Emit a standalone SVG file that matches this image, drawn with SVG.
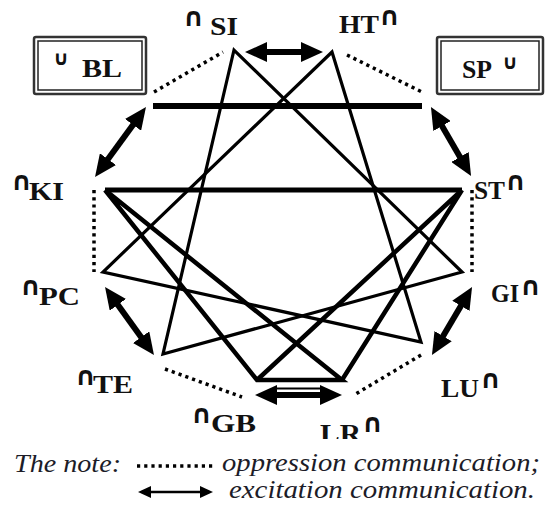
<svg xmlns="http://www.w3.org/2000/svg" width="548" height="506" viewBox="0 0 548 506">
  <defs>
    <style>
      .lbl { font-family: "Liberation Serif", "Times New Roman", serif; font-weight: bold; font-size: 25px; fill: #111; }
      .sym { font-family: "DejaVu Sans", sans-serif; font-weight: bold; font-size: 26px; fill: #111; }
      .cup { font-family: "DejaVu Sans", sans-serif; font-weight: bold; font-size: 20px; fill: #111; }
      .star { fill: none; stroke: #000; stroke-linejoin: miter; stroke-linecap: butt; }
      .thin { stroke-width: 3.2; }
      .thick { stroke-width: 4.5; }
      .dot { fill: none; stroke: #000; stroke-width: 3.5; stroke-dasharray: 3.2 4; }
      .exc { fill: none; stroke: #000; stroke-width: 6; marker-start: url(#ah); marker-end: url(#ah); }
      .box-out { fill: #fff; stroke: #333; stroke-width: 2.5; }
      .box-in { fill: none; stroke: #222; stroke-width: 1.5; }
      .note { font-family: "Liberation Serif", "Times New Roman", serif; font-style: italic; font-size: 26px; fill: #1c1c28; }
    </style>
    <marker id="ah" viewBox="0 -10 22 20" markerWidth="22" markerHeight="20" refX="2" refY="0" orient="auto-start-reverse" markerUnits="userSpaceOnUse">
      <path d="M0,-10 L22,0 L0,10 z" fill="#000"/>
    </marker>
    <marker id="ahs" viewBox="0 -6 13 12" markerWidth="13" markerHeight="12" refX="1" refY="0" orient="auto-start-reverse" markerUnits="userSpaceOnUse">
      <path d="M0,-6 L13,0 L0,6 z" fill="#000"/>
    </marker>
    <clipPath id="clipLR">
      <rect x="300" y="400" width="100" height="39"/>
    </clipPath>
  </defs>

  <rect width="548" height="506" fill="#fff"/>

  <!-- connectors: star lines, oppression (dotted) and excitation (double arrows) -->
  <g id="connectors">
    <!-- BL - SP -->
    <path class="star" stroke-width="6" d="M153,106 L422,106"/>
    <!-- KI, ST, GB, LR group -->
    <path class="star" stroke-width="5" d="M105,190 L462,190"/>
    <path class="star thick" d="M105,190 L257,380 L342,380 L105,190"/>
    <path class="star thick" d="M462,190 L257,380 M462,190 L342,380"/>
    <!-- SI, TE, GI triangle -->
    <polygon class="star thin" points="234,50 163,354 462,272"/>
    <!-- HT, PC, LU triangle -->
    <polygon class="star thin" points="332,52 103,272 421,342"/>

    <!-- oppression communication -->
    <path class="dot" d="M154,92 L223,52"/>
    <path class="dot" d="M347,55 L422,92"/>
    <path class="dot" d="M94,190 L94,272"/>
    <path class="dot" d="M472,190 L472,272"/>
    <path class="dot" d="M165,369 L242,397"/>
    <path class="dot" d="M421,355 L354,395"/>

    <!-- excitation communication -->
    <path class="exc" d="M265,52 L303,52"/>
    <path class="exc" d="M134.2,123.2 L106.8,160.8"/>
    <path class="exc" d="M441,124.3 L461,158.7"/>
    <path class="exc" d="M116.7,303.2 L142.3,338.8"/>
    <path class="exc" d="M461.9,304.2 L442.1,337.8"/>
    <path class="exc" d="M275,395 L322,395"/>
    <path fill="none" stroke="#000" stroke-width="2" d="M275,388.5 L322,388.5"/>
  </g>

  <!-- nodes -->
  <g id="node-SI">
    <text class="sym" x="183" y="26">∩</text>
    <text class="lbl" x="210" y="35" textLength="28" lengthAdjust="spacingAndGlyphs">SI</text>
  </g>
  <g id="node-HT">
    <text class="lbl" x="339" y="33" textLength="40" lengthAdjust="spacingAndGlyphs">HT</text>
    <text class="sym" x="379" y="25">∩</text>
  </g>
  <g id="node-BL">
    <rect class="box-out" x="34" y="37" width="112" height="57" rx="2"/>
    <rect class="box-in" x="38" y="41" width="104" height="49"/>
    <text class="cup" x="53" y="65">∪</text>
    <text class="lbl" x="82" y="77" textLength="40" lengthAdjust="spacingAndGlyphs">BL</text>
  </g>
  <g id="node-SP">
    <rect class="box-out" x="437" y="37" width="106" height="57" rx="2"/>
    <rect class="box-in" x="441" y="41" width="98" height="49"/>
    <text class="lbl" x="462" y="78" textLength="30" lengthAdjust="spacingAndGlyphs">SP</text>
    <text class="cup" x="502" y="69">∪</text>
  </g>
  <g id="node-KI">
    <text class="sym" x="11" y="190">∩</text>
    <text class="lbl" x="29" y="200" textLength="35" lengthAdjust="spacingAndGlyphs">KI</text>
  </g>
  <g id="node-ST">
    <text class="lbl" x="474" y="199" textLength="31" lengthAdjust="spacingAndGlyphs">ST</text>
    <text class="sym" x="505" y="190">∩</text>
  </g>
  <g id="node-PC">
    <text class="sym" x="20" y="295">∩</text>
    <text class="lbl" x="39" y="305" textLength="41" lengthAdjust="spacingAndGlyphs">PC</text>
  </g>
  <g id="node-GI">
    <text class="lbl" x="491" y="302" textLength="28" lengthAdjust="spacingAndGlyphs">GI</text>
    <text class="sym" x="520" y="295">∩</text>
  </g>
  <g id="node-TE">
    <text class="sym" x="75" y="385">∩</text>
    <text class="lbl" x="93" y="393" textLength="40" lengthAdjust="spacingAndGlyphs">TE</text>
  </g>
  <g id="node-LU">
    <text class="lbl" x="441" y="397" textLength="38" lengthAdjust="spacingAndGlyphs">LU</text>
    <text class="sym" x="480" y="388">∩</text>
  </g>
  <g id="node-GB">
    <text class="sym" x="191" y="423">∩</text>
    <text class="lbl" x="211" y="432" textLength="45" lengthAdjust="spacingAndGlyphs">GB</text>
  </g>
  <g id="node-LR">
    <text class="lbl" x="320" y="442" textLength="41" lengthAdjust="spacingAndGlyphs" clip-path="url(#clipLR)">LR</text>
    <text class="sym" x="362" y="432">∩</text>
  </g>

  <!-- legend -->
  <g id="legend">
    <text class="note" x="14" y="472" textLength="107" lengthAdjust="spacingAndGlyphs">The note:</text>
    <path class="dot" stroke-width="3" d="M137,466 L214,466"/>
    <path fill="none" stroke="#000" stroke-width="2.5" marker-start="url(#ahs)" marker-end="url(#ahs)" d="M150,492 L201,492"/>
    <text class="note" x="222" y="471" textLength="318" lengthAdjust="spacingAndGlyphs">oppression communication;</text>
    <text class="note" x="229" y="498" textLength="306" lengthAdjust="spacingAndGlyphs">excitation communication.</text>
  </g>
</svg>
